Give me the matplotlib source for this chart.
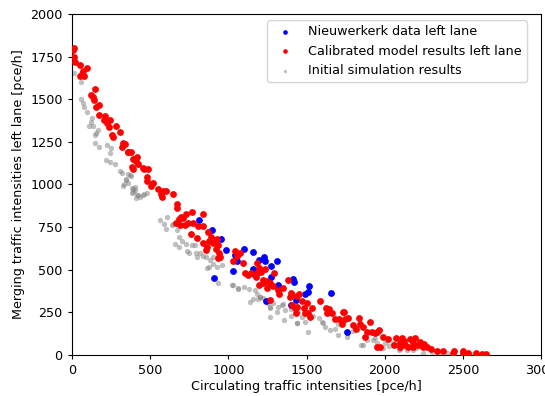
import numpy as np
import matplotlib
matplotlib.use("Agg")
import matplotlib.pyplot as plt

# Nieuwerkerk measurements, left lane
blue_x = [814, 894, 951, 983, 1043, 1057, 1100, 1156, 1028, 910, 1196, 1230, 1235, 1309, 1273,
          1156, 1166, 1273, 1320, 1412, 1420, 1516, 1512, 1490, 1433, 1401, 1241, 1655, 1761]
blue_y = [792, 733, 679, 616, 587, 551, 622, 606, 493, 450, 557, 573, 551, 551, 522,
          503, 475, 456, 411, 444, 430, 405, 371, 358, 323, 293, 318, 365, 137]

# calibrated model, left lane
red_x = [8, 15, 13, 17, 53, 98, 68, 62, 77, 51,
         147, 122, 136, 143, 175, 154, 173, 213, 207, 243, 222, 281, 239, 307, 254, 260,
         328, 339, 318, 356, 377, 418, 392, 409, 424, 382, 392, 463, 484, 478, 482, 516, 505,
         548, 580, 601, 644, 567, 578, 360, 456,
         670, 674, 727, 766, 836, 697, 712, 686, 665, 744, 776, 723, 808, 691, 836, 872, 759,
         802, 887, 904, 926, 878, 900, 840, 936, 862, 921, 857, 942, 936, 947, 1043, 1075,
         1053, 1032, 1092,
         1185, 1198, 1207, 1181, 1235, 1107, 1128, 1143, 1292, 1175, 1220, 1245, 1224, 1267,
         1198, 1288, 1249, 1384, 1320, 1326, 1352, 1399, 1454, 1394, 1469, 1267, 1405, 1501,
         1586, 1426, 1484, 1533, 1490, 1522,
         1410, 1437, 1437, 1433, 1512, 1625, 1646, 1633, 1661, 1682, 1731, 1710, 1746, 1768,
         1725, 1800, 1838, 1842, 1859, 1906, 1889, 1817, 1874, 1917, 1953, 1953, 1740,
         1966, 1938, 1987, 2023, 1970, 2072, 2109, 2098, 2130, 2162, 2194, 2226, 2215, 2244,
         2183, 2151, 2295, 2333, 2372, 2443, 2435, 2503, 2535, 2584, 2620, 2650, 2500,
         2120, 2180, 2250, 2270, 2100, 2060]
red_y = [1790, 1800, 1750, 1715, 1700, 1680, 1667, 1647, 1636, 1636,
         1558, 1525, 1511, 1496, 1466, 1456, 1408, 1402, 1378, 1378, 1359, 1343, 1335, 1310, 1290, 1277,
         1245, 1236, 1222, 1189, 1189, 1163, 1148, 1140, 1118, 1104, 1089, 1091, 1091, 1042, 1022, 1011, 991,
         972, 962, 962, 944, 944, 925, 1192, 1095,
         884, 864, 825, 841, 827, 811, 802, 796, 776, 776, 776, 762, 757, 762, 757, 723, 708,
         684, 690, 674, 679, 670, 655, 659, 645, 635, 620, 616, 597, 567, 573, 612, 600,
         581, 553, 541,
         538, 508, 489, 483, 503, 479, 469, 479, 483, 456, 440, 436, 421, 421,
         411, 405, 391, 440, 381, 358, 391, 362, 358, 338, 317, 323, 293, 303,
         317, 274, 274, 274, 248, 225,
         350, 346, 280, 245, 245, 274, 268, 248, 245, 209, 254, 209, 209, 215,
         182, 176, 215, 182, 166, 195, 137, 151, 107, 137, 137, 45, 254,
         147, 127, 107, 92, 49, 98, 98, 72, 59, 92, 98, 78, 59, 49,
         49, 49, 33, 25, 25, 25, 10, 10, 10, 10, 8, 8, 25,
         85, 70, 62, 45, 45, 60]

# initial simulation
grey_x = [13, 56, 58, 72, 77, 98, 126, 122, 111, 132, 168, 154, 147,
          147, 175, 222, 247, 243, 217, 243, 275, 307, 318, 371, 345, 330, 382, 400, 390, 414, 452, 482,
          356, 377, 343, 360, 328, 403, 392, 382, 424, 461, 409, 435,
          563, 590, 610, 640, 670, 600,
          648, 686, 702, 659, 729, 686, 734, 766, 787, 750, 793, 819, 840, 797, 857, 883, 904, 900,
          930, 958, 878,
          862, 936, 1021, 1060, 1139, 1203, 1267, 1267, 1358, 1437, 1512, 1608, 1650, 1757, 1864,
          2088, 2141,
          1032, 1064, 1100, 1134, 1171, 1181, 1203, 1160, 1192, 1224, 1256, 1288, 1320, 1341, 1267,
          1309, 1363, 1448,
          1441, 1490, 1597, 1618, 1682, 1704, 1768, 1847, 1885, 1938,
          1927, 2002, 2055, 2098, 2247,
          2180, 2300, 2400, 2550, 2620, 1540, 1580, 1700, 1800, 1950, 1990, 2030, 2150, 2200, 2350,
          1400, 1470, 1350, 1400]
grey_y = [1651, 1603, 1500, 1480, 1456, 1427, 1388, 1368, 1343, 1343, 1320, 1304, 1290,
          1245, 1222, 1232, 1212, 1183, 1144, 1134, 1120, 1081, 1066, 1056, 1026, 1000, 977, 970, 955, 938, 938, 948,
          1062, 1050, 1032, 1007, 991, 983, 972, 948, 938, 943, 919, 925,
          790, 770, 810, 760, 734, 740,
          766, 690, 670, 651, 651, 632, 612, 645, 645, 597, 597, 600, 581, 573, 573, 557, 573, 534,
          514, 528, 517,
          508, 421, 411, 390, 313, 340, 283, 225, 205, 186, 137, 186, 147, 107, 59,
          29, 29,
          411, 385, 397, 385, 381, 358, 342, 327, 327, 333, 303, 307, 280, 293, 274,
          254, 264, 254,
          190, 195, 195, 162, 151, 117, 127, 59, 88, 98,
          88, 72, 69, 33, 13,
          30, 20, 10, 5, 3, 230, 215, 180, 140, 70, 40, 55, 50, 40, 15,
          230, 220, 300, 270]

plt.rcParams['font.size'] = 9.2
plt.rcParams['xtick.major.size'] = 3.2
plt.rcParams['ytick.major.size'] = 3.2

fig = plt.figure(figsize=(5.45, 3.96), dpi=100)
ax = fig.add_axes([0.132, 0.1035, 0.861, 0.8615])

ax.scatter(blue_x, blue_y, s=15, color="blue", zorder=3, label="Nieuwerkerk data left lane")
ax.scatter(red_x, red_y, s=15, color="red", zorder=4, label="Calibrated model results left lane")
ax.scatter(grey_x, grey_y, s=15, color="grey", alpha=0.5, linewidths=0, zorder=2,
           label="Initial simulation results")

ax.set_xlim(0, 3000)
ax.set_ylim(0, 2000)
ax.set_xticks(np.arange(0, 3001, 500))
ax.set_yticks(np.arange(0, 2001, 250))
ax.set_xlabel("Circulating traffic intensities [pce/h]", labelpad=2)
ax.set_ylabel("Merging traffic intensities left lane [pce/h]")
ax.legend(loc="upper right", bbox_to_anchor=(0.983, 1.0), markerscale=0.6)

fig.savefig("out.png", dpi=100)
